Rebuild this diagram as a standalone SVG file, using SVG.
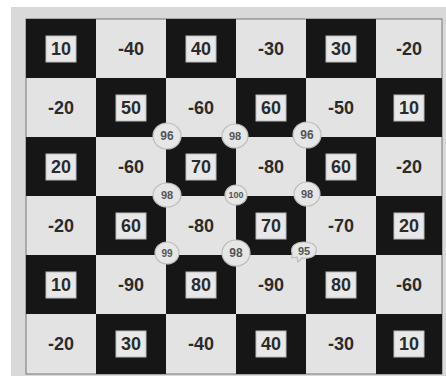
<svg xmlns="http://www.w3.org/2000/svg" width="446" height="376" viewBox="0 0 446 376">
<style>
.d{fill:#161616}
.l{fill:#e3e3e3}
.bx{fill:#e8e8e8;stroke:#bbb;stroke-width:1}
.t{font-family:"Liberation Sans",Arial,sans-serif;font-weight:bold;font-size:18px;fill:#2b2b2b;text-anchor:middle;dominant-baseline:central}
.c{fill:#e6e6e6;stroke:#bdbdbd;stroke-width:1.2}
.ct{font-family:"Liberation Sans",Arial,sans-serif;font-weight:bold;font-size:12px;fill:#555;text-anchor:middle;dominant-baseline:central}
</style>
<rect width="446" height="376" fill="#ffffff"/>
<rect x="11" y="7" width="435" height="369" fill="#d9d9d9"/>
<g id="board">
<rect x="26" y="19" width="416" height="355" fill="#e3e3e3" stroke="#777" stroke-width="1"/>
<rect class="d" x="26" y="19" width="70" height="59"/><rect class="d" x="166" y="19" width="70" height="59"/><rect class="d" x="306" y="19" width="70" height="59"/>
<rect class="d" x="96" y="78" width="70" height="59"/><rect class="d" x="236" y="78" width="70" height="59"/><rect class="d" x="376" y="78" width="66" height="59"/>
<rect class="d" x="26" y="137" width="70" height="59"/><rect class="d" x="166" y="137" width="70" height="59"/><rect class="d" x="306" y="137" width="70" height="59"/>
<rect class="d" x="96" y="196" width="70" height="59"/><rect class="d" x="236" y="196" width="70" height="59"/><rect class="d" x="376" y="196" width="66" height="59"/>
<rect class="d" x="26" y="255" width="70" height="59"/><rect class="d" x="166" y="255" width="70" height="59"/><rect class="d" x="306" y="255" width="70" height="59"/>
<rect class="d" x="96" y="314" width="70" height="60"/><rect class="d" x="236" y="314" width="70" height="60"/><rect class="d" x="376" y="314" width="66" height="60"/>
</g>
<g id="boxes">
<rect class="bx" x="46" y="36" width="30" height="26"/><rect class="bx" x="186" y="36" width="30" height="26"/><rect class="bx" x="326" y="36" width="30" height="26"/>
<rect class="bx" x="116" y="95" width="30" height="26"/><rect class="bx" x="256" y="95" width="30" height="26"/><rect class="bx" x="394" y="95" width="30" height="26"/>
<rect class="bx" x="46" y="154" width="30" height="26"/><rect class="bx" x="186" y="154" width="30" height="26"/><rect class="bx" x="326" y="154" width="30" height="26"/>
<rect class="bx" x="116" y="213" width="30" height="26"/><rect class="bx" x="256" y="213" width="30" height="26"/><rect class="bx" x="394" y="213" width="30" height="26"/>
<rect class="bx" x="46" y="272" width="30" height="26"/><rect class="bx" x="186" y="272" width="30" height="26"/><rect class="bx" x="326" y="272" width="30" height="26"/>
<rect class="bx" x="116" y="331" width="30" height="26"/><rect class="bx" x="256" y="331" width="30" height="26"/><rect class="bx" x="394" y="331" width="30" height="26"/>
</g>
<g id="labels">
<text class="t" x="61" y="49">10</text><text class="t" x="131" y="49">-40</text><text class="t" x="201" y="49">40</text><text class="t" x="271" y="49">-30</text><text class="t" x="341" y="49">30</text><text class="t" x="409" y="49">-20</text>
<text class="t" x="61" y="108">-20</text><text class="t" x="131" y="108">50</text><text class="t" x="201" y="108">-60</text><text class="t" x="271" y="108">60</text><text class="t" x="341" y="108">-50</text><text class="t" x="409" y="108">10</text>
<text class="t" x="61" y="167">20</text><text class="t" x="131" y="167">-60</text><text class="t" x="201" y="167">70</text><text class="t" x="271" y="167">-80</text><text class="t" x="341" y="167">60</text><text class="t" x="409" y="167">-20</text>
<text class="t" x="61" y="226">-20</text><text class="t" x="131" y="226">60</text><text class="t" x="201" y="226">-80</text><text class="t" x="271" y="226">70</text><text class="t" x="341" y="226">-70</text><text class="t" x="409" y="226">20</text>
<text class="t" x="61" y="285">10</text><text class="t" x="131" y="285">-90</text><text class="t" x="201" y="285">80</text><text class="t" x="271" y="285">-90</text><text class="t" x="341" y="285">80</text><text class="t" x="409" y="285">-60</text>
<text class="t" x="61" y="344">-20</text><text class="t" x="131" y="344">30</text><text class="t" x="201" y="344">-40</text><text class="t" x="271" y="344">40</text><text class="t" x="341" y="344">-30</text><text class="t" x="409" y="344">10</text>
</g>
<g id="n96a"><ellipse class="c" cx="167" cy="136" rx="14" ry="13"/><text class="ct" x="167" y="136">96</text></g>
<g id="n98a"><ellipse class="c" cx="235" cy="136" rx="13" ry="12"/><text class="ct" x="235" y="136" style="font-size:11px">98</text></g>
<g id="n96b"><ellipse class="c" cx="307" cy="135" rx="14" ry="13"/><text class="ct" x="307" y="135">96</text></g>
<g id="n98b"><ellipse class="c" cx="167" cy="195" rx="14" ry="12"/><text class="ct" x="167" y="195" style="font-size:11px">98</text></g>
<g id="n100"><ellipse class="c" cx="236" cy="195" rx="11" ry="10"/><text class="ct" x="236" y="195" style="font-size:9px">100</text></g>
<g id="n98c"><ellipse class="c" cx="307" cy="194" rx="13" ry="12"/><text class="ct" x="307" y="194" style="font-size:11px">98</text></g>
<g id="n99"><ellipse class="c" cx="167" cy="253" rx="12" ry="11"/><text class="ct" x="167" y="253" style="font-size:10px">99</text></g>
<g id="n98d"><ellipse class="c" cx="236" cy="253" rx="14" ry="13"/><text class="ct" x="236" y="253">98</text></g>
<g id="n95"><path class="c" d="M292,253 C290,246 296,242 304,242 C312,242 318,246 316,252 C315,257 309,259 302,258 L298,262 L297,257 L292,258 Z"/><text class="ct" x="304" y="251" style="font-size:11px">95</text></g>
</svg>
